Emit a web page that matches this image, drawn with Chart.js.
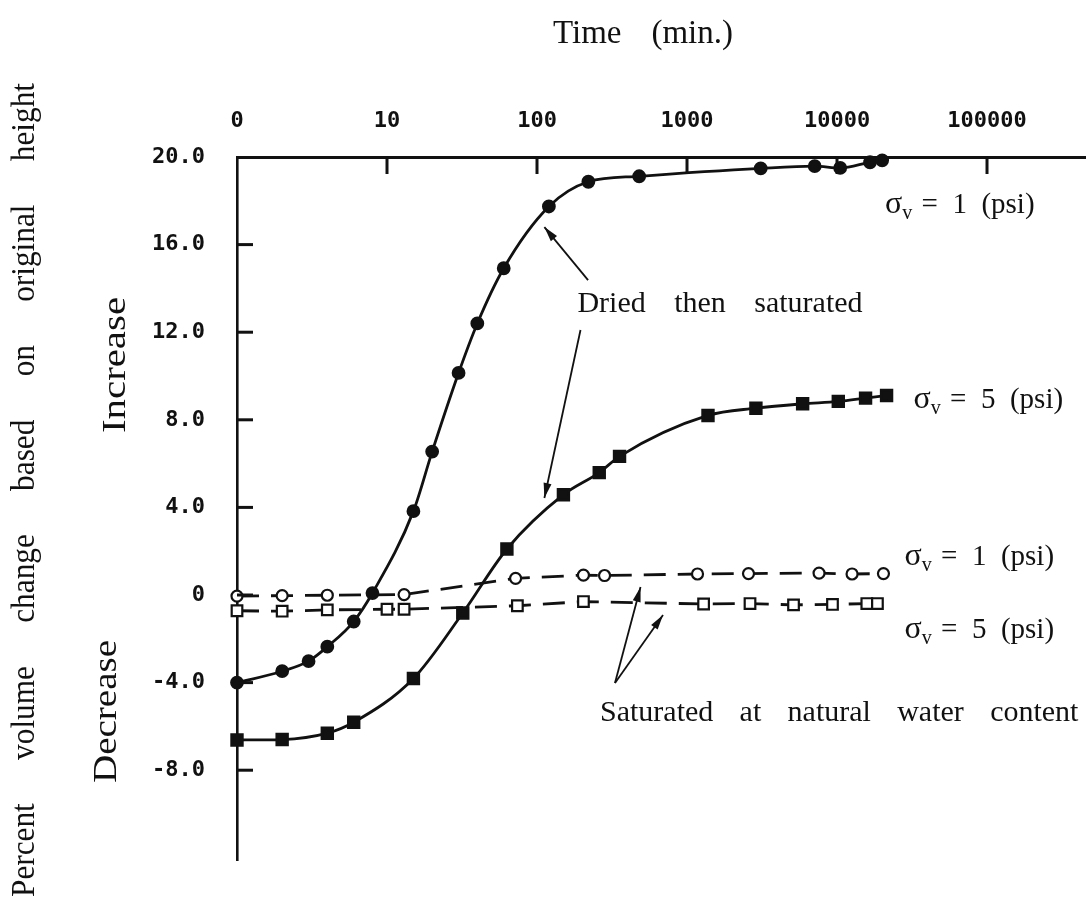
<!DOCTYPE html>
<html>
<head>
<meta charset="utf-8">
<script src="https://cdn.jsdelivr.net/npm/chart.js@4.4.0/dist/chart.umd.min.js"></script>
<style>
  html, body { margin: 0; padding: 0; background: #fff; }
  #box { width: 1086px; height: 903px; position: relative; }
</style>
</head>
<body>
<div id="box"><canvas id="grafico"></canvas></div>
<script>
// eixo x: tempo em minutos (escala log), eixo y: variação de volume em %
const xTicks = [1, 10, 100, 1000, 10000, 100000];
const xLabels = ["0", "10", "100", "1000", "10000", "100000"];
const yTicks = [-8, -4, 0, 4, 8, 12, 16, 20];

// seco e depois saturado, sigma_v = 1 psi
const driedT1 = [1, 2, 3, 4, 6, 8, 15, 20, 30, 40, 60, 120, 220, 480, 3100, 7100, 10500, 16600, 20000];
const driedV1 = [-4.0, -3.48, -3.02, -2.36, -1.21, 0.09, 3.83, 6.55, 10.14, 12.4, 14.92, 17.74, 18.87, 19.12, 19.48, 19.58, 19.5, 19.76, 19.85];

// seco e depois saturado, sigma_v = 5 psi
const driedT5 = [1, 2, 4, 6, 15, 32, 63, 150, 260, 355, 1380, 2880, 5900, 10200, 15500, 21400];
const driedV5 = [-6.62, -6.6, -6.31, -5.81, -3.81, -0.82, 2.1, 4.58, 5.59, 6.33, 8.2, 8.53, 8.73, 8.84, 8.99, 9.11];

// saturado na umidade natural, sigma_v = 1 psi
const natT1 = [1, 2, 4, 13, 72, 204, 282, 1175, 2570, 7590, 12600, 20400];
const natV1 = [-0.05, -0.03, -0.01, 0.02, 0.76, 0.91, 0.89, 0.96, 0.98, 1.0, 0.96, 0.98];

// saturado na umidade natural, sigma_v = 5 psi
const natT5 = [1, 2, 4, 10, 13, 74, 204, 1290, 2630, 5130, 9330, 15800, 18600];
const natV5 = [-0.72, -0.74, -0.68, -0.65, -0.65, -0.49, -0.3, -0.41, -0.39, -0.45, -0.43, -0.39, -0.39];

const pts = (ts, vs) => ts.map((t, i) => ({ x: t, y: vs[i] }));
const ink = "#111";
const serif = "'Liberation Serif', 'Times New Roman', serif";
const mono = { family: "'DejaVu Sans Mono', monospace", size: 22, weight: "bold" };

// escreve as palavras espalhadas entre x0 e x1 (com leve compressão horizontal)
function spread(c, text, x0, x1, y, size, sq) {
  c.font = size + "px " + serif;
  const words = text.split(" ");
  const ws = words.map((w) => c.measureText(w).width * sq);
  const total = ws.reduce((a, b) => a + b, 0);
  let k = sq;
  let gap = 0;
  if (words.length === 1) {
    k = (x1 - x0) / (total / sq);
  } else {
    gap = (x1 - x0 - total) / (words.length - 1);
  }
  let x = x0;
  words.forEach((w, i) => {
    c.save();
    c.translate(x, y);
    c.scale(k, 1);
    c.fillText(w, 0, 0);
    c.restore();
    x += (words.length === 1 ? x1 - x0 : ws[i]) + gap;
  });
}

function spreadUp(c, text, cx, yBottom, yTop, size, sq) {
  c.save();
  c.translate(cx, (yBottom + yTop) / 2);
  c.rotate(-Math.PI / 2);
  const half = (yBottom - yTop) / 2;
  spread(c, text, -half, half, 0, size, sq);
  c.restore();
}

function arrow(c, x0, y0, x1, y1) {
  c.beginPath();
  c.moveTo(x0, y0);
  c.lineTo(x1, y1);
  c.stroke();
  const a = Math.atan2(y1 - y0, x1 - x0);
  const L = 15, W = 4;
  c.beginPath();
  c.moveTo(x1, y1);
  c.lineTo(x1 - L * Math.cos(a) + W * Math.sin(a), y1 - L * Math.sin(a) - W * Math.cos(a));
  c.lineTo(x1 - L * Math.cos(a) - W * Math.sin(a), y1 - L * Math.sin(a) + W * Math.cos(a));
  c.closePath();
  c.fill();
}

// rótulo "σv = n (psi)" com subscrito
function sigma(c, x, y, rest) {
  c.font = "32px " + serif;
  c.fillText("σ", x, y);
  let w = c.measureText("σ").width;
  c.font = "20px " + serif;
  c.fillText("v", x + w, y + 6);
  w += c.measureText("v").width;
  c.font = "29px " + serif;
  c.fillText(rest, x + w + 2, y);
}

// textos, setas e marcas internas dos eixos
const extras = {
  id: "extras",
  afterDraw(chart) {
    const c = chart.ctx;
    const sx = chart.scales.x;
    const sy = chart.scales.y;
    const X = (t) => sx.getPixelForValue(t);
    const Y = (v) => sy.getPixelForValue(v);
    const area = chart.chartArea;
    c.save();
    c.strokeStyle = ink;
    c.fillStyle = ink;
    c.textBaseline = "alphabetic";
    c.textAlign = "left";

    // marcas para dentro
    c.lineWidth = 3;
    xTicks.slice(1).forEach((t) => {
      c.beginPath();
      c.moveTo(X(t), area.top);
      c.lineTo(X(t), area.top + 17);
      c.stroke();
    });
    yTicks.slice(0, -1).forEach((v) => {
      c.beginPath();
      c.moveTo(area.left, Y(v));
      c.lineTo(area.left + 16, Y(v));
      c.stroke();
    });

    // títulos dos eixos
    spread(c, "Time (min.)", 553, 733, 43, 33, 1);
    spreadUp(c, "Percent volume change based on original height", 34, 897, 83, 34, 0.92);
    spreadUp(c, "Increase", 125, 433, 297, 34, 1);
    spreadUp(c, "Decrease", 116, 783, 640, 34, 1);

    // anotações dentro do gráfico
    spread(c, "Dried then saturated", X(186), X(14800), Y(12.9), 30, 1);
    spread(c, "Saturated at natural water content", X(263), X(407000), Y(-5.75), 30, 1);
    sigma(c, X(20900), Y(17.44), " =  1  (psi)");
    sigma(c, X(32400), Y(8.54), " =  5  (psi)");
    sigma(c, X(28200), Y(1.37), " =  1  (psi)");
    sigma(c, X(28200), Y(-1.96), " =  5  (psi)");

    c.lineWidth = 1.8;
    arrow(c, X(219), Y(14.38), X(112), Y(16.8));
    arrow(c, X(195), Y(12.1), X(112), Y(4.43));
    arrow(c, X(331), Y(-4.02), X(490), Y(0.37));
    arrow(c, X(331), Y(-4.02), X(692), Y(-0.91));
    c.restore();
  },
};

const ctx = document.getElementById("grafico");
new Chart(ctx, {
  type: "line",
  data: {
    datasets: [
      {
        label: "Dried then saturated, 1 psi",
        data: pts(driedT1, driedV1),
        borderColor: ink,
        borderWidth: 2.8,
        cubicInterpolationMode: "monotone",
        pointStyle: "circle",
        pointRadius: 5.5,
        pointBackgroundColor: ink,
        pointBorderColor: ink,
      },
      {
        label: "Dried then saturated, 5 psi",
        data: pts(driedT5, driedV5),
        borderColor: ink,
        borderWidth: 2.8,
        cubicInterpolationMode: "monotone",
        pointStyle: "rect",
        pointRadius: 7.5,
        pointBackgroundColor: ink,
        pointBorderColor: ink,
      },
      {
        label: "Natural water content, 1 psi",
        data: pts(natT1, natV1),
        borderColor: ink,
        borderWidth: 2.8,
        borderDash: [22, 12],
        tension: 0,
        pointStyle: "circle",
        pointRadius: 5.5,
        pointBorderWidth: 2.2,
        pointBackgroundColor: "#fff",
        pointBorderColor: ink,
      },
      {
        label: "Natural water content, 5 psi",
        data: pts(natT5, natV5),
        borderColor: ink,
        borderWidth: 2.8,
        borderDash: [22, 12],
        tension: 0,
        pointStyle: "rect",
        pointRadius: 7.5,
        pointBorderWidth: 2.2,
        pointBackgroundColor: "#fff",
        pointBorderColor: ink,
      },
    ],
  },
  options: {
    responsive: true,
    maintainAspectRatio: false,
    animation: false,
    clip: false,
    layout: { autoPadding: false, padding: { left: 0, top: 0, right: 0, bottom: 43 } },
    scales: {
      x: {
        type: "logarithmic",
        position: "top",
        min: 1,
        max: 457000,
        afterBuildTicks: (s) => {
          s.ticks = xTicks.map((v) => ({ value: v }));
        },
        afterFit: (s) => {
          s.height = 157;
          s.paddingLeft = 0;
          s.paddingRight = 0;
        },
        grid: { display: false, drawTicks: false },
        border: { display: true, color: ink, width: 3 },
        ticks: {
          padding: 23,
          color: ink,
          font: mono,
          callback: (v, i) => xLabels[i],
        },
      },
      y: {
        type: "linear",
        min: -12.1,
        max: 20,
        afterBuildTicks: (s) => {
          s.ticks = yTicks.map((v) => ({ value: v }));
        },
        afterFit: (s) => {
          s.width = 237;
          s.paddingTop = 0;
          s.paddingBottom = 0;
        },
        grid: { display: false, drawTicks: false },
        border: { display: true, color: ink, width: 2.6 },
        ticks: {
          padding: 32,
          color: ink,
          font: mono,
          callback: (v) => (v === 0 ? "0" : v.toFixed(1)),
        },
      },
    },
    plugins: {
      legend: { display: false },
      tooltip: { enabled: false },
    },
  },
  plugins: [extras],
});
</script>
</body>
</html>
